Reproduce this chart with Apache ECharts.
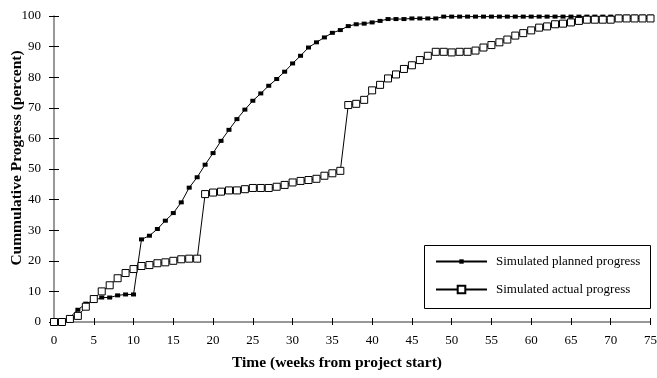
<!DOCTYPE html>
<html>
<head>
<meta charset="utf-8">
<script src="https://cdn.jsdelivr.net/npm/echarts@6/dist/echarts.min.js"></script>
<style>
html,body{margin:0;padding:0;background:#fff;}
#chart{width:657px;height:378px;}
</style>
</head>
<body>
<div id="chart"></div>
<script>
const weeks = [0,1,2,3,4,5,6,7,8,9,10,11,12,13,14,15,16,17,18,19,20,21,22,23,24,25,26,27,28,29,30,31,32,33,34,35,36,37,38,39,40,41,42,43,44,45,46,47,48,49,50,51,52,53,54,55,56,57,58,59,60,61,62,63,64,65,66,67,68,69,70,71,72,73,74,75];
const planned = [0,0.5,1.5,4,6,7,8,8,8.7,9,9,
  27,28.2,30.4,33.1,35.6,39.1,43.9,47.3,51.4,55.2,
  59.2,62.8,66.3,69.4,72.3,74.7,77.2,79.4,81.8,84.5,
  87,89.7,91.4,93,94.5,95.4,96.7,97.3,97.5,97.9,
  98.4,99,99,99,99.2,99.2,99.2,99.2,99.8,99.8,
  99.8,99.8,99.8,99.8,99.8,99.8,99.8,99.8,99.8,99.8,
  99.8,99.8,99.8,99.8,99.8,99.8,99.8,99.8,99.8,99.8,
  99.8,99.8,99.8,99.8,99.8];
const actual = [0,0,1,2,5,7.5,10,12,14.3,16,17.3,
  18.3,18.6,19.2,19.5,20,20.5,20.7,20.7,41.8,42.3,
  42.6,43,43,43.4,43.8,43.8,43.8,44.2,44.8,45.6,
  46.1,46.4,46.8,47.8,48.6,49.4,70.9,71.3,72.6,75.7,
  77.5,79.6,80.9,82.7,83.9,85.6,87,88.3,88.3,88.1,
  88.3,88.3,88.7,89.7,90.5,91.4,92.3,93.6,94.4,95.3,
  96.2,96.6,97.3,97.5,97.9,98.4,98.8,98.8,98.8,98.8,
  99.2,99.2,99.2,99.2,99.2];
const seriesNames = ['Simulated planned progress','Simulated actual progress'];
const xTitle = 'Time (weeks from project start)';
const yTitle = 'Cummulative Progress (percent)';

const FONT = 'Liberation Serif, Times New Roman, serif';
const chart = echarts.init(document.getElementById('chart'), null, {renderer:'canvas'});
const pair = (ys) => weeks.map((w,i)=>[w, ys[i]]);

const axisCommonX = {type:'value', min:0, max:75, interval:5, splitLine:{show:false}};
const axisCommonY = {type:'value', min:0, max:100, interval:10, splitLine:{show:false}};

const legendBase = {
  orient:'vertical', left:435, padding:0, z:20,
  itemWidth:51,
  textStyle:{fontFamily:FONT, fontSize:13, color:'#000', padding:[0,0,0,4]}
};

chart.setOption({
  animation:false,
  backgroundColor:'#fff',
  grid:{left:54, right:6.5, top:16, bottom:56, containLabel:false, outerBoundsMode:'none'},
  xAxis:[
    Object.assign({}, axisCommonX, {
      position:'bottom',
      axisLine:{show:true, lineStyle:{color:'#777', width:1.5}},
      axisTick:{show:true, inside:false, length:3, lineStyle:{color:'#000', width:1}},
      axisLabel:{show:true, margin:12, color:'#000', fontFamily:FONT, fontSize:13}
    }),
    Object.assign({}, axisCommonX, {
      position:'bottom',
      axisLine:{show:false},
      axisTick:{show:true, inside:true, length:4, lineStyle:{color:'#000', width:1}},
      axisLabel:{show:false}
    })
  ],
  yAxis:[
    Object.assign({}, axisCommonY, {
      position:'left',
      axisLine:{show:true, lineStyle:{color:'#777', width:1.5}},
      axisTick:{show:true, inside:false, length:5, lineStyle:{color:'#000', width:1}},
      axisLabel:{show:true, margin:13, color:'#000', fontFamily:FONT, fontSize:13}
    }),
    Object.assign({}, axisCommonY, {
      position:'left',
      offset:0,
      axisLine:{show:false},
      axisTick:{show:true, inside:true, length:5, lineStyle:{color:'#000', width:1}},
      axisLabel:{show:false}
    })
  ],
  legend:[
    Object.assign({}, legendBase, {top:255, itemHeight:5.5, data:[seriesNames[0]]}),
    Object.assign({}, legendBase, {top:283, itemHeight:9.5, data:[seriesNames[1]]})
  ],
  series:[
    {
      name:seriesNames[0], type:'line', xAxisIndex:0, yAxisIndex:0,
      data:pair(planned),
      symbol:'rect', symbolSize:[5,4],
      lineStyle:{color:'#000', width:1},
      itemStyle:{color:'#000', borderColor:'#000', borderWidth:0},
      z:2
    },
    {
      name:seriesNames[1], type:'line', xAxisIndex:0, yAxisIndex:0,
      data:pair(actual),
      symbol:'rect', symbolSize:7,
      lineStyle:{color:'#000', width:1},
      itemStyle:{color:'#fff', borderColor:'#000', borderWidth:1},
      z:3
    }
  ],
  graphic:{
    z:5,
    elements:[
      {type:'rect', shape:{x:424.5, y:245.5, width:226, height:63},
        style:{fill:'#fff', stroke:'#000', lineWidth:1}},
      {type:'text', x:337, y:363,
        style:{text:xTitle, font:'bold 15.5px '+FONT, fill:'#000', align:'center', verticalAlign:'middle'}},
      {type:'text', x:17, y:158, rotation:Math.PI/2,
        style:{text:yTitle, font:'bold 15.5px '+FONT, fill:'#000', align:'center', verticalAlign:'middle'}}
    ]
  }
});
</script>
</body>
</html>
